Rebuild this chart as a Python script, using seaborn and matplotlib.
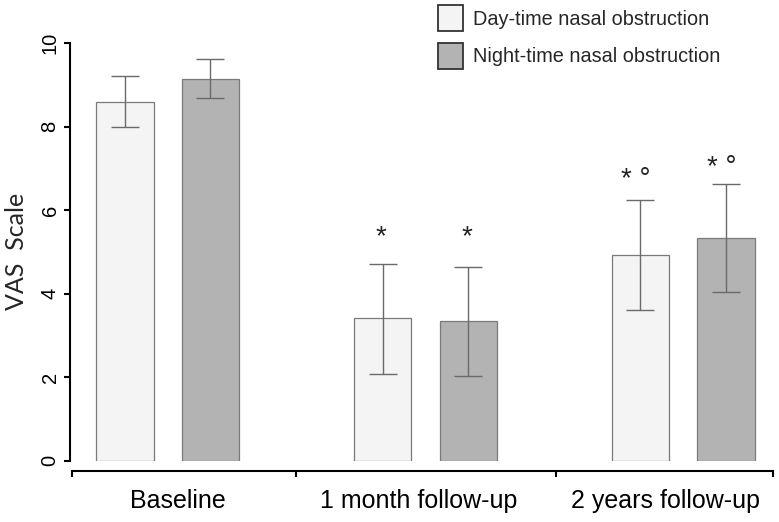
import numpy as np
import pandas as pd
import matplotlib
matplotlib.use("Agg")
import matplotlib.pyplot as plt
from matplotlib.container import BarContainer
import seaborn as sns

# ---- data ----
periods = ["Baseline", "1 month follow-up", "2 years follow-up"]
series = ["Day-time nasal obstruction", "Night-time nasal obstruction"]
day_mean = [8.60, 3.41, 4.93]
day_low = [8.00, 2.08, 3.60]
day_high = [9.21, 4.72, 6.25]
night_mean = [9.15, 3.34, 5.34]
night_low = [8.70, 2.04, 4.03]
night_high = [9.62, 4.64, 6.63]
day_marks = ["", "*", "* \u00b0"]
night_marks = ["", "*", "* \u00b0"]
day_mark_y = [np.nan, 5.46, 6.83]
night_mark_y = [np.nan, 5.46, 7.11]
y_ticks = [0, 2, 4, 6, 8, 10]

df = pd.DataFrame({
    "period": periods * 2,
    "type": [series[0]] * 3 + [series[1]] * 3,
    "value": day_mean + night_mean,
})
lows = [day_low, night_low]
highs = [day_high, night_high]
means = [day_mean, night_mean]
marks = [day_marks, night_marks]
mark_y = [day_mark_y, night_mark_y]

sns.set_theme(style="ticks")
plt.rcParams["font.family"] = ["Liberation Sans", "DejaVu Sans"]

W, H = 779, 522
fig = plt.figure(figsize=(W / 100, H / 100), dpi=100)
ax = fig.add_axes([70 / W, (H - 460.7) / H, (W - 70) / W, (460.7 - 43.3) / H])

palette = {series[0]: "#f4f4f4", series[1]: "#b3b3b3"}
sns.barplot(data=df, x="period", y="value", hue="type", order=periods,
            hue_order=series, palette=palette, width=0.664, gap=0.331,
            edgecolor="#7a7a7a", linewidth=0.9, errorbar=None, ax=ax,
            saturation=1)

bar_conts = [c for c in ax.containers if isinstance(c, BarContainer)]

# error bars and significance marks at the bar centres
for i, cont in enumerate(bar_conts):
    xs = [b.get_x() + b.get_width() / 2 for b in cont]
    m = np.array(means[i])
    lo = m - np.array(lows[i])
    hi = np.array(highs[i]) - m
    ax.errorbar(xs, m, yerr=[lo, hi], fmt="none", ecolor="#6a6a6a",
                elinewidth=1.0, capsize=10.4, capthick=1.0, zorder=5)
    for x, t, yy in zip(xs, marks[i], mark_y[i]):
        if t:
            ax.annotate(t, (x, yy), xytext=(-3 if len(t) > 1 else -1, -3),
                        textcoords="offset points", ha="center", va="center",
                        fontsize=20, color="#222222")

ax.set_xlim(-0.379, 2.372)
ax.set_ylim(0, 10)
ax.set_yticks(y_ticks)
ax.set_yticklabels([str(v) for v in y_ticks], rotation=90, va="center")
ax.tick_params(axis="y", length=4.5, width=1.5, pad=3, colors="black",
               labelsize=14.5)

# bottom axis: boundary ticks (major) and category labels (minor)
ax.set_xticks([-0.371, 0.498, 1.506, 2.349])
ax.set_xticklabels([""] * 4)
ax.set_xticks([0.04, 0.975, 1.933], minor=True)
ax.set_xticklabels(periods, minor=True)
ax.tick_params(axis="x", which="major", length=4.5, width=1.5, colors="black")
ax.tick_params(axis="x", which="minor", length=0, pad=13, labelsize=18,
               labelcolor="black")
for lab in ax.get_xticklabels(minor=True):
    lab.set_fontfamily(["Lato", "DejaVu Sans"])
ax.set_xlabel("")
ax.set_ylabel("")

sns.despine(ax=ax)
ax.spines["left"].set_bounds(0, 10)
ax.spines["left"].set_linewidth(1.5)
ax.spines["bottom"].set_linewidth(1.5)
ax.spines["bottom"].set_position(("outward", 7.4))
ax.spines["bottom"].set_bounds(-0.371, 2.349)
ax.spines["left"].set_color("black")
ax.spines["bottom"].set_color("black")

fig.text(17 / W, 1 - 251 / H, "VAS  Scale", rotation=90, ha="center",
         va="center", fontsize=18, family=["Lato", "DejaVu Sans"])

sns.move_legend(ax, loc="upper left", bbox_to_anchor=(438 / W, 1 - 5 / H),
                bbox_transform=fig.transFigure, frameon=False, title=None,
                fontsize=14.3, handlelength=1.27, handleheight=1.64,
                labelspacing=0.6, handletextpad=0.5, borderpad=0,
                borderaxespad=0)
leg = ax.get_legend()
for h in leg.legend_handles:
    h.set_edgecolor("#333333")
    h.set_linewidth(1.3)

fig.savefig("out.png", dpi=100)
